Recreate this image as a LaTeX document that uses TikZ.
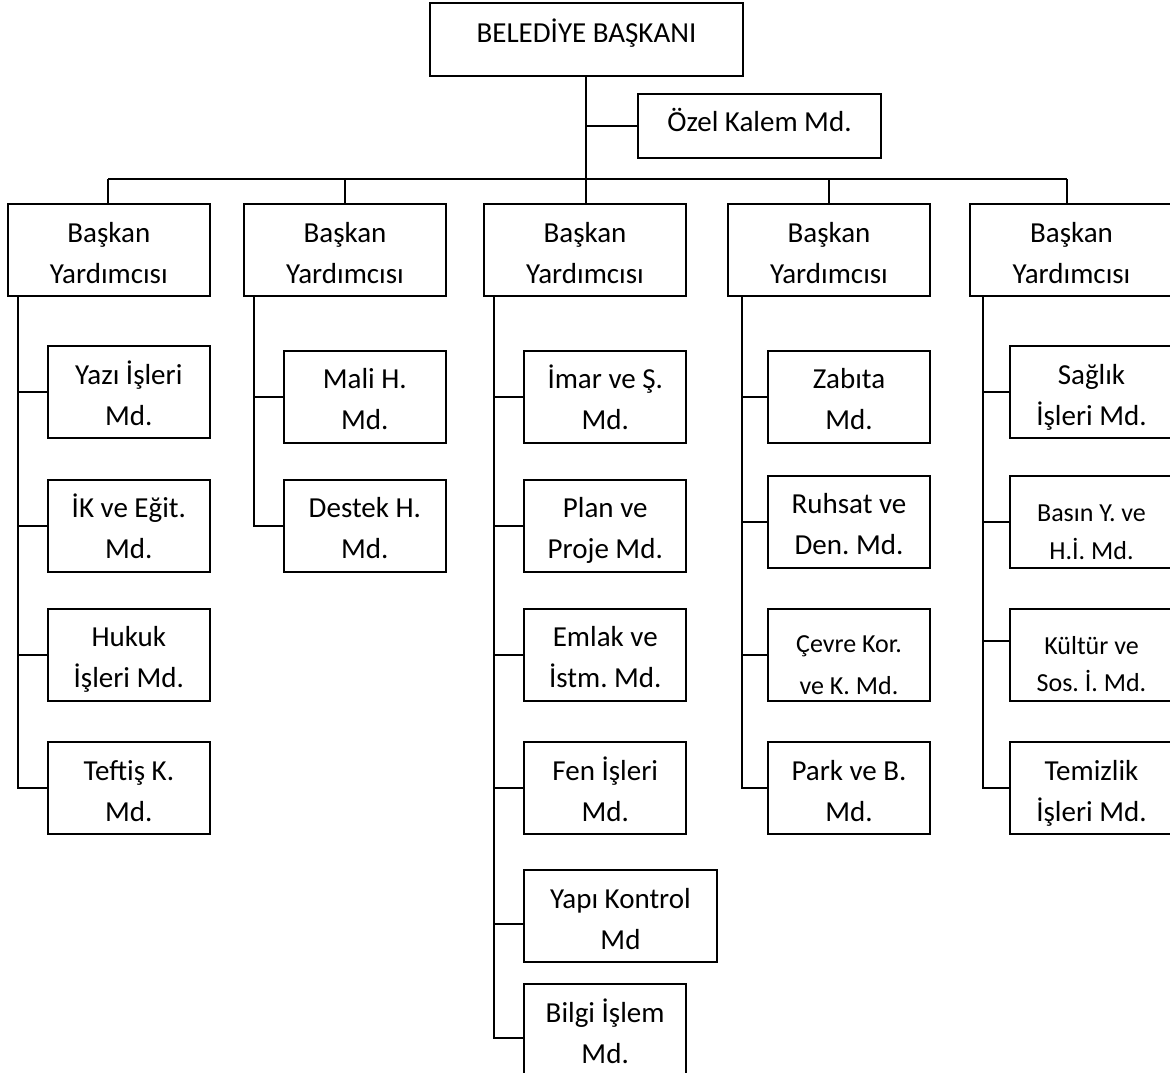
\documentclass[tikz,border=0pt]{standalone}
\usepackage{fontspec}
\setmainfont{Carlito}
\frenchspacing
\newcommand\bline[1]{\rule[-8pt]{0pt}{41pt}#1}
\newcommand\sline[1]{\rule[-0.2pt]{0pt}{37pt}#1}
\begin{document}
\begin{tikzpicture}[x=1pt,y=-1pt,
  box/.style={draw=black,line width=2pt,rectangle,inner sep=0pt,align=center,
    font=\fontsize{29pt}{41pt}\selectfont\frenchspacing},
  sbox/.style={box,font=\fontsize{26pt}{37pt}\selectfont\frenchspacing},
  vp/.style={box,minimum width=202pt,minimum height=92pt},
  md/.style={box,minimum width=162pt,minimum height=92pt},
  smd/.style={sbox,minimum width=162pt,minimum height=92pt},
  conn/.style={line width=2pt,draw=black}]
\useasboundingbox (0,0) rectangle (1170,1073);
% top
\node[box,minimum width=313pt,minimum height=72.7pt,text height=24pt,text depth=18pt] (top) at (586.5,39.7) {BELEDİYE BAŞKANI};
\node[box,minimum width=243pt,minimum height=64pt,text height=24pt,text depth=12.6pt] (ozel) at (759.5,126) {Özel Kalem Md.};
% vice presidents
\node[vp] (vp1) at (108.85,250) {\bline{Başkan}\\\bline{Yardımcısı}};
\node[vp] (vp2) at (345,250) {\bline{Başkan}\\\bline{Yardımcısı}};
\node[vp] (vp3) at (585,250) {\bline{Başkan}\\\bline{Yardımcısı}};
\node[vp] (vp4) at (829,250) {\bline{Başkan}\\\bline{Yardımcısı}};
\node[vp,minimum width=203pt] (vp5) at (1071.5,250) {\bline{Başkan}\\\bline{Yardımcısı}};
% column 1
\node[md] (yazi) at (128.85,392.35) {\bline{Yazı İşleri}\\\bline{Md.}};
\node[md] (ik) at (128.85,525.85) {\bline{İK ve Eğit.}\\\bline{Md.}};
\node[md] (hukuk) at (128.85,654.85) {\bline{Hukuk}\\\bline{İşleri Md.}};
\node[md] (teftis) at (128.85,788.35) {\bline{Teftiş K.}\\\bline{Md.}};
% column 2
\node[md] (mali) at (364.85,396.85) {\bline{Mali H.}\\\bline{Md.}};
\node[md] (destek) at (364.85,525.85) {\bline{Destek H.}\\\bline{Md.}};
% column 3
\node[md] (imar) at (605.25,396.7) {\bline{İmar ve Ş.}\\\bline{Md.}};
\node[md] (plan) at (605.25,525.85) {\bline{Plan ve}\\\bline{Proje Md.}};
\node[md] (emlak) at (605.25,654.85) {\bline{Emlak ve}\\\bline{İstm. Md.}};
\node[md] (fen) at (605.25,788.35) {\bline{Fen İşleri}\\\bline{Md.}};
\node[md,minimum width=193pt] (yapi) at (620.5,916) {\bline{Yapı Kontrol}\\\bline{Md}};
\node[md] (bilgi) at (605.15,1030) {\bline{Bilgi İşlem}\\\bline{Md.}};
% column 4
\node[md] (zabita) at (849,396.7) {\bline{Zabıta}\\\bline{Md.}};
\node[md] (ruhsat) at (849,521.7) {\bline{Ruhsat ve}\\\bline{Den. Md.}};
\node[smd] (cevre) at (849,654.85) {\sline{Çevre Kor.}\\\sline{ve K. Md.}};
\node[md] (park) at (849,788.35) {\bline{Park ve B.}\\\bline{Md.}};
% column 5
\node[md,minimum width=163pt] (saglik) at (1091.5,392.35) {\bline{Sağlık}\\\bline{İşleri Md.}};
\node[smd,minimum width=163pt] (basin) at (1091.5,521.7) {\sline{Basın Y. ve}\\\sline{H.İ. Md.}};
\node[smd,minimum width=163pt] (kultur) at (1091.5,654.85) {\sline{Kültür ve}\\\sline{Sos. İ. Md.}};
\node[md,minimum width=163pt] (temizlik) at (1091.5,788.35) {\bline{Temizlik}\\\bline{İşleri Md.}};
% coordinates
\coordinate (tr) at (586,179);
\coordinate (busl) at (108,179);
\coordinate (busr) at (1067,179);
\coordinate (c1) at (18,0);
\coordinate (c2) at (254,0);
\coordinate (c3) at (494,0);
\coordinate (c4) at (742,0);
\coordinate (c5) at (982.5,0);
% trunk and bus
\draw[conn] (top.south -| tr) -- (vp3.north -| tr);
\draw[conn] (tr |- ozel.west) -- (ozel.west);
\draw[conn] (busl) -- (busr);
\draw[conn] (busl) -- (busl |- vp1.north);
\draw[conn] (vp2.north |- busl) -- (vp2.north);
\draw[conn] (vp4.north |- busl) -- (vp4.north);
\draw[conn] (busr) -- (busr |- vp5.north);
% column 1
\draw[conn] (vp1.south -| c1) |- (teftis.west);
\draw[conn] (c1 |- yazi.west) -- (yazi.west);
\draw[conn] (c1 |- ik.west) -- (ik.west);
\draw[conn] (c1 |- hukuk.west) -- (hukuk.west);
% column 2
\draw[conn] (vp2.south -| c2) |- (destek.west);
\draw[conn] (c2 |- mali.west) -- (mali.west);
% column 3
\draw[conn] (vp3.south -| c3) |- ([yshift=-8pt]bilgi.west);
\draw[conn] (c3 |- imar.west) -- (imar.west);
\draw[conn] (c3 |- plan.west) -- (plan.west);
\draw[conn] (c3 |- emlak.west) -- (emlak.west);
\draw[conn] (c3 |- fen.west) -- (fen.west);
\draw[conn] ([yshift=-8pt]c3 |- yapi.west) -- ([yshift=-8pt]yapi.west);
% column 4
\draw[conn] (vp4.south -| c4) |- (park.west);
\draw[conn] (c4 |- zabita.west) -- (zabita.west);
\draw[conn] (c4 |- ruhsat.west) -- (ruhsat.west);
\draw[conn] (c4 |- cevre.west) -- (cevre.west);
% column 5
\draw[conn] (vp5.south -| c5) |- (temizlik.west);
\draw[conn] (c5 |- saglik.west) -- (saglik.west);
\draw[conn] (c5 |- basin.west) -- (basin.west);
\draw[conn] ([yshift=14pt]c5 |- kultur.west) -- ([yshift=14pt]kultur.west);
\end{tikzpicture}
\end{document}
